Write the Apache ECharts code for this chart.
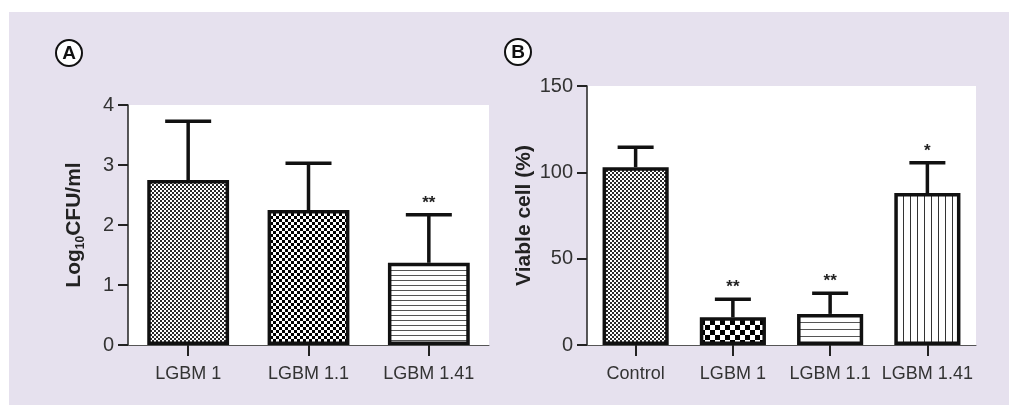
<!DOCTYPE html>
<html>
<head>
<meta charset="utf-8">
<script src="https://cdn.jsdelivr.net/npm/echarts@6/dist/echarts.min.js"></script>
<style>
html,body{margin:0;padding:0;background:#ffffff;}
#chart{width:1009px;height:407px;}
</style>
</head>
<body>
<div id="chart"></div>
<script>
// ---- Data ----
const catsA = ['LGBM 1', 'LGBM 1.1', 'LGBM 1.41'];
const meanA = [2.75, 2.25, 1.37];
const errA = [0.98, 0.78, 0.80];
const sigA = ['', '', '**'];
const ticksA = [0, 1, 2, 3, 4];

const catsB = ['Control', 'LGBM 1', 'LGBM 1.1', 'LGBM 1.41'];
const meanB = [103, 16, 18, 88];
const errB = [11.5, 10.5, 12, 17.5];
const sigB = ['', '**', '**', '*'];
const ticksB = [0, 50, 100, 150];

const FONT = 'Liberation Sans, Arial, Helvetica, sans-serif';

// ---- Patterns ----
function mk(w, h, draw) {
  const c = document.createElement('canvas');
  c.width = w; c.height = h;
  const g = c.getContext('2d');
  g.fillStyle = '#ffffff'; g.fillRect(0, 0, w, h);
  draw(g);
  return { image: c, repeat: 'repeat' };
}
function checker(cell, col) {
  return mk(cell * 2, cell * 2, g => {
    g.fillStyle = col;
    g.fillRect(0, 0, cell, cell);
    g.fillRect(cell, cell, cell, cell);
  });
}
function hlines(sp, col) {
  return mk(4, sp, g => { g.fillStyle = col; g.fillRect(0, 0, 4, 1); });
}
function vlines(sp, col) {
  return mk(sp, 4, g => { g.fillStyle = col; g.fillRect(0, 0, 1, 4); });
}
const fine = checker(2, '#2a2a2a');
const patA = [fine, checker(3, '#000000'), hlines(5, '#555555')];
const patB = [fine, checker(5, '#000000'), hlines(7, '#555555'), vlines(7, '#333333')];

function barData(vals, pats) {
  return vals.map((v, i) => ({ value: v, itemStyle: { color: pats[i] } }));
}

function errRender(errs, sigs, capW) {
  return function (params, api) {
    const i = api.value(0);
    const m = api.value(1);
    const e = errs[i];
    const p0 = api.coord([i, m]);
    const p1 = api.coord([i, m + e]);
    const st = { stroke: '#111', lineWidth: 3.5 };
    const ch = [
      { type: 'line', shape: { x1: p0[0], y1: p0[1], x2: p1[0], y2: p1[1] }, style: st },
      { type: 'line', shape: { x1: p1[0] - capW / 2, y1: p1[1], x2: p1[0] + capW / 2, y2: p1[1] }, style: st }
    ];
    if (sigs[i]) {
      ch.push({ type: 'text', x: p1[0], y: p1[1] - 3,
        style: { text: sigs[i], fill: '#222', font: 'bold 17px ' + FONT, align: 'center', verticalAlign: 'bottom' } });
    }
    return { type: 'group', children: ch };
  };
}

const axisCommonY = {
  type: 'value',
  axisLine: { show: true, lineStyle: { color: '#222', width: 1.5 } },
  axisTick: { show: true, length: 10, lineStyle: { color: '#222', width: 2 } },
  axisLabel: { color: '#333', fontSize: 20, fontFamily: FONT, margin: 14 },
  splitLine: { show: false },
  nameLocation: 'middle', nameRotate: 90,
  nameTextStyle: { color: '#222', fontWeight: 'bold', fontSize: 21, fontFamily: FONT }
};
const axisCommonX = {
  type: 'category',
  axisLine: { show: true, lineStyle: { color: '#555', width: 1 } },
  axisTick: { show: true, alignWithLabel: true, length: 11, lineStyle: { color: '#222', width: 2 } },
  axisLabel: { color: '#333', fontSize: 18, fontFamily: FONT, margin: 20, interval: 0 }
};

const chart = echarts.init(document.getElementById('chart'), null, { renderer: 'canvas' });
chart.setOption({
  animation: false,
  backgroundColor: '#ffffff',
  graphic: [
    { type: 'rect', z: -10, silent: true, shape: { x: 9, y: 12, width: 1000, height: 393 }, style: { fill: '#e6e1ee' } },
    { type: 'circle', z: 10, shape: { cx: 69, cy: 53, r: 13 }, style: { fill: '#fff', stroke: '#111', lineWidth: 2 } },
    { type: 'text', z: 11, x: 69, y: 54, style: { text: 'A', font: 'bold 19px ' + FONT, fill: '#111', align: 'center', verticalAlign: 'middle' } },
    { type: 'circle', z: 10, shape: { cx: 518, cy: 52, r: 13 }, style: { fill: '#fff', stroke: '#111', lineWidth: 2 } },
    { type: 'text', z: 11, x: 518, y: 53, style: { text: 'B', font: 'bold 19px ' + FONT, fill: '#111', align: 'center', verticalAlign: 'middle' } }
  ],
  grid: [
    { left: 128, right: 520, top: 105, bottom: 62, show: true, backgroundColor: '#ffffff', borderWidth: 0 },
    { left: 587, right: 33, top: 86, bottom: 62, show: true, backgroundColor: '#ffffff', borderWidth: 0 }
  ],
  xAxis: [
    Object.assign({}, axisCommonX, { gridIndex: 0, data: catsA }),
    Object.assign({}, axisCommonX, { gridIndex: 1, data: catsB })
  ],
  yAxis: [
    Object.assign({}, axisCommonY, {
      gridIndex: 0, min: ticksA[0], max: ticksA[ticksA.length - 1], interval: 1,
      name: '{a|Log}{s|10}{a|CFU/ml}', nameGap: 41,
      nameTextStyle: { rich: {
        a: { fontSize: 21, fontWeight: 'bold', fontFamily: FONT, color: '#222', lineHeight: 26 },
        s: { fontSize: 12, fontWeight: 'bold', fontFamily: FONT, color: '#222', lineHeight: 26, verticalAlign: 'bottom', padding: [7, 0, 0, 0] }
      } }
    }),
    Object.assign({}, axisCommonY, {
      gridIndex: 1, min: ticksB[0], max: ticksB[ticksB.length - 1], interval: 50,
      name: 'Viable cell (%)', nameGap: 52
    })
  ],
  series: [
    { type: 'bar', xAxisIndex: 0, yAxisIndex: 0, barWidth: '68%', data: barData(meanA, patA),
      itemStyle: { borderColor: '#111', borderWidth: 3.5 } },
    { type: 'custom', xAxisIndex: 0, yAxisIndex: 0, z: 5, data: meanA.map((v, i) => [i, v]),
      encode: { x: 0, y: 1 }, renderItem: errRender(errA, sigA, 46) },
    { type: 'bar', xAxisIndex: 1, yAxisIndex: 1, barWidth: '68%', data: barData(meanB, patB),
      itemStyle: { borderColor: '#111', borderWidth: 3.5 } },
    { type: 'custom', xAxisIndex: 1, yAxisIndex: 1, z: 5, data: meanB.map((v, i) => [i, v]),
      encode: { x: 0, y: 1 }, renderItem: errRender(errB, sigB, 36) }
  ]
});
</script>
</body>
</html>
